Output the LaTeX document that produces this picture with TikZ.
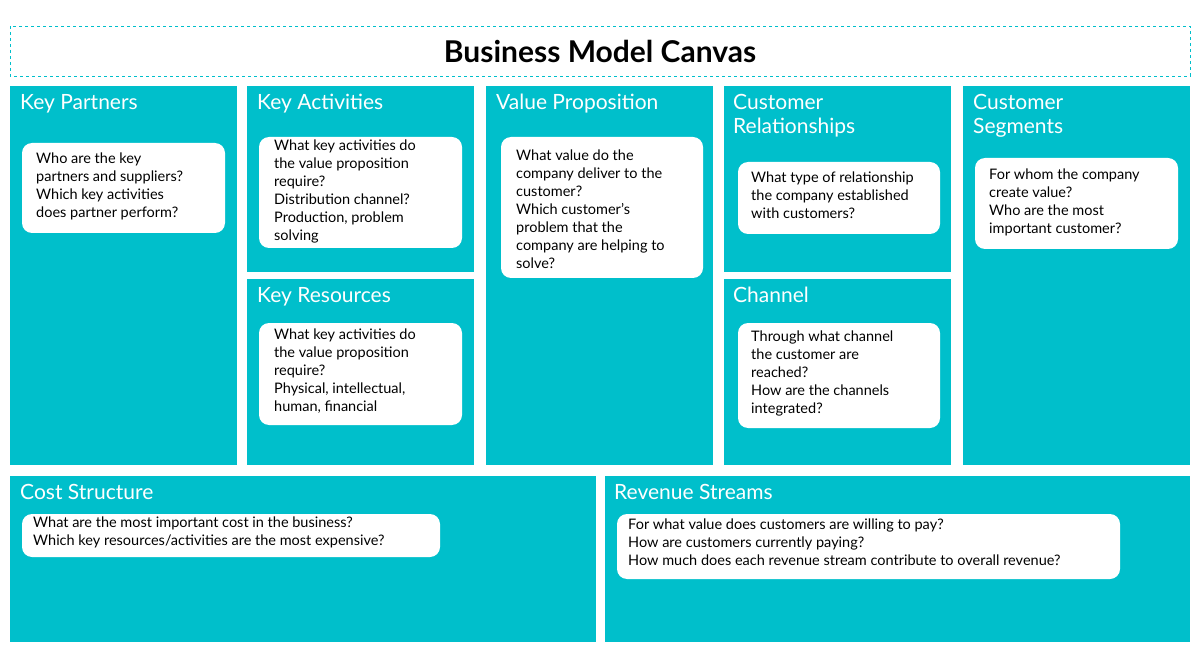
\documentclass[tikz,border=0pt]{standalone}
\usepackage{fontspec}
\setmainfont{Lato}
\definecolor{cy}{HTML}{00BFCB}
\begin{document}
\begin{tikzpicture}[x=1pt,y=-1pt,
 panel/.style={fill=cy,draw=none},
 head/.style={anchor=north west,text=white,font=\fontsize{21}{24}\selectfont,align=left,inner sep=0pt},
 card/.style={fill=white,rounded corners=10pt,draw=none},
 body/.style={anchor=north west,font=\fontsize{14.5}{18}\selectfont,align=left,inner sep=0pt}]
\useasboundingbox (0,0) rectangle (1200,655);
\draw[cy,dashed] (10,26) rectangle (1190,76);
\node[font=\bfseries\fontsize{30}{34}\selectfont] (title) at (600,51) {Business Model Canvas};
% panels
\fill[panel] (10,86) rectangle (237,465);
\fill[panel] (247,86) rectangle (474,272);
\fill[panel] (247,279) rectangle (474,465);
\fill[panel] (486,86) rectangle (713,465);
\fill[panel] (724,86) rectangle (951,272);
\fill[panel] (724,279) rectangle (951,465);
\fill[panel] (963,86) rectangle (1190,465);
\fill[panel] (10,476) rectangle (596,642);
\fill[panel] (605,476) rectangle (1190,642);
\node[head] (hkp) at (20,94) {Key Partners};
\node[head] (hka) at (257,94) {Key Activities};
\node[head] (hkr) at (257,287) {Key Resources};
\node[head] (hvp) at (496,94) {Value Proposition};
\node[head] (hcr) at (733,94) {Customer\\Relationships};
\node[head] (hch) at (733,287) {Channel};
\node[head] (hcs) at (973,94) {Customer\\Segments};
\node[head] (hcost) at (20,484) {Cost Structure};
\node[head] (hrev) at (614,484) {Revenue Streams};
% cards
\fill[card] (22,143) rectangle (225,233);
\fill[card] (259,137) rectangle (462,248);
\fill[card] (259,323) rectangle (462,425);
\fill[card] (501,137) rectangle (703,278);
\fill[card] (738,162) rectangle (940,234);
\fill[card] (738,323) rectangle (940,428);
\fill[card] (975,158) rectangle (1178,249);
\fill[card] (22,514) rectangle (440,557);
\fill[card] (617,514) rectangle (1120,579);
\node[body] (bkp) at (36,153) {Who are the key\\partners and suppliers?\\Which key activities\\does partner perform?};
\node[body] (bka) at (274,140) {What key activities do\\the value proposition\\require?\\Distribution channel?\\Production, problem\\solving};
\node[body] (bkr) at (274,329) {What key activities do\\the value proposition\\require?\\Physical, intellectual,\\human, financial};
\node[body] (bvp) at (516,150) {What value do the\\company deliver to the\\customer?\\Which customer's\\problem that the\\company are helping to\\solve?};
\node[body] (bcr) at (751,172) {What type of relationship\\the company established\\with customers?};
\node[body] (bch) at (751,331) {Through what channel\\the customer are\\reached?\\How are the channels\\integrated?};
\node[body] (bcs) at (989,169) {For whom the company\\create value?\\Who are the most\\important customer?};
\node[body] (bcost) at (33,517) {What are the most important cost in the business?\\Which key resources/activities are the most expensive?};
\node[body] (brev) at (628,519) {For what value does customers are willing to pay?\\How are customers currently paying?\\How much does each revenue stream contribute to overall revenue?};
\end{tikzpicture}
\end{document}
